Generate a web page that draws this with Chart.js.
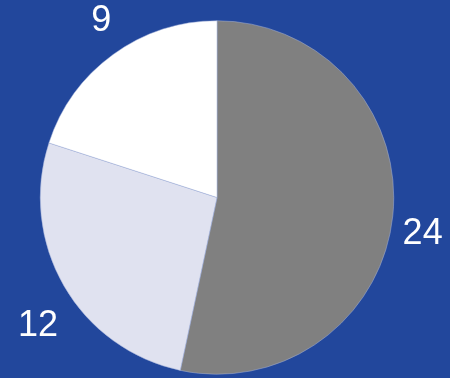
<!DOCTYPE html>
<html>
<head>
<meta charset="utf-8">
<script src="https://cdn.jsdelivr.net/npm/chart.js@4"></script>
<style>
  html, body { margin: 0; padding: 0; background: #22479C; }
  #wrap { width: 450px; height: 378px; }
</style>
</head>
<body>
<div id="wrap"><canvas id="pieChart" width="450" height="378"></canvas></div>
<script>
const categories = ['A', 'B', 'C'];
const values = [24, 12, 9];
const sliceColors = ['#808080', '#E0E2F0', '#FFFFFF'];

// outside labels placed around each slice's mid angle
const outsideLabels = {
    id: 'outsideLabels',
    afterDatasetsDraw(chart) {
        const ctx = chart.ctx;
        const meta = chart.getDatasetMeta(0);
        ctx.save();
        ctx.font = '36px "Liberation Sans", Arial, sans-serif';
        ctx.fillStyle = '#FFFFFF';
        ctx.textAlign = 'center';
        ctx.textBaseline = 'middle';
        meta.data.forEach((arc, i) => {
            const mid = (arc.startAngle + arc.endAngle) / 2;
            const txt = String(values[i]);
            const w = ctx.measureText(txt).width;
            const cx = Math.cos(mid), cy = Math.sin(mid);
            const x = arc.x + cx * (arc.outerRadius + 10) + cx * w / 2;
            const y = arc.y + cy * (arc.outerRadius + 56) + 12;
            ctx.fillText(txt, x, y);
        });
        ctx.restore();
    }
};

new Chart(document.getElementById('pieChart').getContext('2d'), {
    type: 'pie',
    data: {
        labels: categories,
        datasets: [{
            data: values,
            backgroundColor: sliceColors,
            borderColor: '#A3B0D8',
            borderWidth: 0.5
        }]
    },
    options: {
        responsive: false,
        animation: false,
        layout: { padding: { left: 40, right: 56, top: 19, bottom: 2 } },
        plugins: {
            legend: { display: false },
            tooltip: { enabled: false }
        }
    },
    plugins: [outsideLabels]
});
</script>
</body>
</html>
